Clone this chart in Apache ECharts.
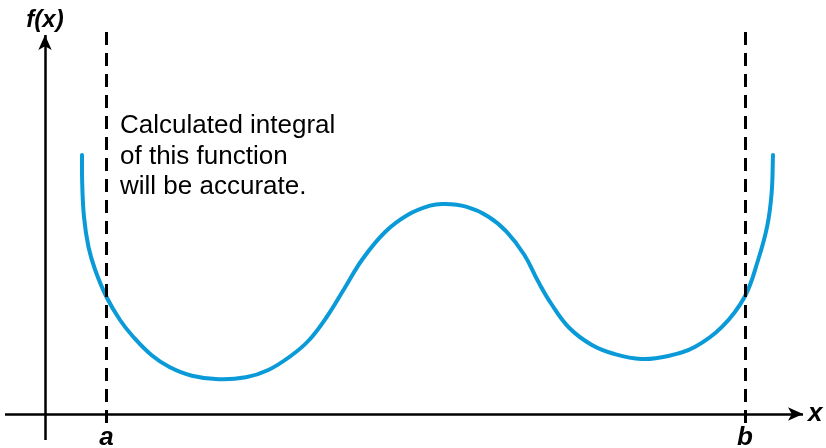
<!DOCTYPE html>
<html>
<head>
<meta charset="utf-8">
<script src="https://cdn.jsdelivr.net/npm/echarts@6/dist/echarts.min.js"></script>
<style>html,body{margin:0;padding:0;background:#fff}#c{width:826px;height:448px}</style>
</head>
<body>
<div id="c"></div>
<script>
// Curve f(x) (arbitrary units)
const curveX = [3.70, 3.72, 3.90, 4.35, 5.02, 6.15, 7.50, 8.84, 10.64, 12.44, 14.69, 17.38, 20.08, 22.33, 24.57, 26.37, 28.17, 29.97, 31.76, 34.01, 36.26, 38.50, 39.85, 42.10, 44.35, 46.15, 47.94, 49.29, 50.64, 52.44, 54.69, 56.94, 59.63, 62.33, 65.02, 67.72, 69.97, 71.31, 72.21, 72.66, 72.80];
const curveY = [25.90, 23.10, 19.70, 16.70, 14.40, 11.70, 9.40, 7.70, 5.90, 4.70, 3.83, 3.47, 3.67, 4.40, 5.80, 7.35, 9.70, 12.60, 15.50, 18.20, 19.90, 20.83, 21.00, 20.73, 19.73, 18.23, 15.90, 13.30, 11.00, 8.60, 6.90, 6.00, 5.50, 5.80, 6.73, 8.73, 11.73, 15.40, 18.73, 22.07, 25.90];
// Integration bounds
const boundX = [6.15, 70.0];
const boundLabels = ['a', 'b'];
const boundTop = 38.2, boundBottom = -0.9;
// Axis extents
const xAxisExtent = [-4, 75.8];
const yAxisExtent = [-2.6, 37.9];
const axisNames = ['x', 'f(x)'];
const note = ['Calculated integral', 'of this function', 'will be accurate.'];

const chart = echarts.init(document.getElementById('c'), null, {renderer: 'canvas'});
const curve = curveX.map((x, i) => [x, curveY[i]]);
const labelFont = {fontFamily: 'Liberation Sans', fontStyle: 'italic', fontWeight: 'bold', fontSize: 26, color: '#000'};

// Smooth spline through the data points, positioned by the chart's own scales (api.coord)
function renderCurve(params, api) {
  if (params.dataIndex !== 0) return null;
  const p = curve.map(d => api.coord(d));
  const n = p.length, s = 0.4;
  const dist = (a, b) => Math.hypot(b[0] - a[0], b[1] - a[1]);
  const outCp = [], inCp = [];
  for (let i = 0; i < n; i++) {
    const prev = p[Math.max(i - 1, 0)], next = p[Math.min(i + 1, n - 1)];
    const dp = dist(prev, p[i]), dn = dist(p[i], next), tot = dp + dn || 1;
    const tx = next[0] - prev[0], ty = next[1] - prev[1];
    outCp[i] = [p[i][0] + tx * s * dn / tot, p[i][1] + ty * s * dn / tot];
    inCp[i] = [p[i][0] - tx * s * dp / tot, p[i][1] - ty * s * dp / tot];
  }
  let d = 'M' + p[0][0] + ' ' + p[0][1];
  for (let i = 0; i < n - 1; i++) {
    d += ' C' + outCp[i][0] + ' ' + outCp[i][1] + ' ' + inCp[i + 1][0] + ' ' + inCp[i + 1][1] + ' ' + p[i + 1][0] + ' ' + p[i + 1][1];
  }
  return {type: 'path', shape: {pathData: d}, style: {fill: 'none', stroke: '#0a9ad8', lineWidth: 4, lineCap: 'round'}};
}

chart.setOption({
  animation: false,
  grid: {left: 5, right: 0, top: 32, bottom: 8},
  xAxis: {type: 'value', min: -4, max: 78.1, show: false},
  yAxis: {type: 'value', min: -2.6, max: 38.2, show: false},
  graphic: [{
    type: 'text', left: 120, top: 111,
    style: {text: note.join('\n'), font: '26px "Liberation Sans"', lineHeight: 30.5, fill: '#000'}
  }],
  series: [
    {
      type: 'line', data: [], silent: true,
      markLine: {
        silent: true, animation: false,
        symbol: ['none', 'arrow'], symbolSize: [10, 15],
        lineStyle: {color: '#000', width: 2.5, type: 'solid'},
        data: [
          [{coord: [xAxisExtent[0], 0]}, {coord: [xAxisExtent[1], 0], label: Object.assign({show: true, position: 'end', formatter: axisNames[0], distance: 5}, labelFont)}],
          [{coord: [0, yAxisExtent[0]]}, {coord: [0, yAxisExtent[1]], label: Object.assign({show: true, position: 'end', formatter: axisNames[1], distance: 3}, labelFont, {fontSize: 24})}]
        ]
      }
    },
    {
      type: 'line', data: [], silent: true,
      markLine: {
        silent: true, animation: false,
        symbol: ['none', 'none'],
        lineStyle: {color: '#000', width: 3, type: [13, 8]},
        data: boundX.map((x, i) => [
          {coord: [x, boundBottom], label: Object.assign({show: true, position: 'start', formatter: boundLabels[i], distance: 2}, labelFont)},
          {coord: [x, boundTop]}
        ])
      }
    },
    {
      type: 'custom', data: curve, silent: true, clip: false,
      encode: {x: 0, y: 1},
      renderItem: renderCurve
    }
  ]
});
</script>
</body>
</html>
